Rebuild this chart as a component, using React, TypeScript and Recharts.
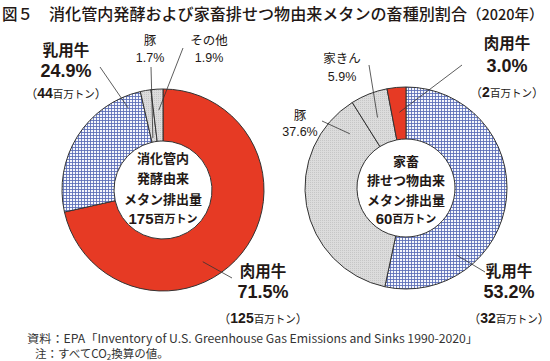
import React from 'react';
import { PieChart, Pie, Cell } from 'recharts';

const W = 550;
const H = 361;

// 消化管内発酵由来 (left ring)
const entericNames = ['肉用牛', '乳用牛', '豚', 'その他'];
const entericShares = [71.5, 24.9, 1.7, 1.9];
const entericTons = [125, 44, null, null];
const entericTotal = 175;

// 家畜排せつ物由来 (right ring)
const manureNames = ['乳用牛', '豚', '家きん', '肉用牛'];
const manureShares = [53.2, 37.6, 5.9, 3.0];
const manureTons = [32, null, null, 2];
const manureTotal = 60;

const JP = '"Noto Sans CJK JP", "Noto Sans", sans-serif';
const NUM = '"Liberation Sans", Arial, sans-serif';
const INK = '#231815';

const fills: Record<string, string> = {
  肉用牛: '#e63a24',
  乳用牛: 'url(#dairyHatch)',
  豚: 'url(#greyDots)',
  家きん: 'url(#greyDots)',
  その他: 'url(#greyDots)',
};

const LEFT = { cx: 163, cy: 190 };
const RIGHT = { cx: 406, cy: 188 };
const INNER = 49;
const OUTER = 101;

// label placement: tip = polar point inside the slice (deg clockwise from 12 o'clock)
type LabelPos = { tipR: number; tipA: number; from: [number, number]; x: number; ys: number[] };

const entericLabels: LabelPos[] = [
  { tipR: 82, tipA: 151, from: [232, 278], x: 263, ys: [270, 292, 318] },
  { tipR: 89, tipA: 337, from: [100, 67], x: 66, ys: [49, 71, 93] },
  { tipR: 53, tipA: 349, from: [151, 67], x: 150, ys: [39, 58] },
  { tipR: 80, tipA: 357, from: [183, 48], x: 209, ys: [39, 58] },
];

const manureLabels: LabelPos[] = [
  { tipR: 84, tipA: 143, from: [485, 272], x: 509, ys: [270, 292, 318] },
  { tipR: 78, tipA: 314, from: [322, 121], x: 300, ys: [114, 132] },
  { tipR: 76, tipA: 338, from: [369, 65], x: 342, ys: [57, 77] },
  { tipR: 76, tipA: 355, from: [462, 65], x: 507, ys: [42, 66, 92] },
];

const toData = (names: string[], shares: number[], tons: (number | null)[]) =>
  names.map((name, i) => ({ name, share: shares[i], tons: tons[i] }));

const makeLabel = (layout: LabelPos[]) => (props: any) => {
  const { cx, cy, index, payload, value } = props;
  const L = layout[index];
  const rad = (L.tipA * Math.PI) / 180;
  const tx = cx + L.tipR * Math.sin(rad);
  const ty = cy - L.tipR * Math.cos(rad);
  const big = payload.tons != null;
  const pct = `${Number(value).toFixed(1)}%`;
  return (
    <g key={`lbl-${index}`}>
      <line x1={L.from[0]} y1={L.from[1]} x2={tx} y2={ty} stroke="#333" strokeWidth={0.8} />
      {big ? (
        <>
          <text x={L.x} y={L.ys[0]} textAnchor="middle" dominantBaseline="central" fontFamily={JP} fontSize={15.5} fontWeight={700} fill={INK}>
            {payload.name}
          </text>
          <text x={L.x} y={L.ys[1]} textAnchor="middle" dominantBaseline="central" fontFamily={NUM} fontSize={18} fontWeight={700} fill={INK}>
            {pct}
          </text>
          <text x={L.x} y={L.ys[2]} textAnchor="middle" dominantBaseline="central" fontFamily={JP} fontSize={12} fill={INK}>
            （<tspan fontFamily={NUM} fontWeight={700} fontSize={14}>{payload.tons}</tspan>
            <tspan fontSize={10.5}>百万トン</tspan>）
          </text>
        </>
      ) : (
        <>
          <text x={L.x} y={L.ys[0]} textAnchor="middle" dominantBaseline="central" fontFamily={JP} fontSize={12.5} fill={INK}>
            {payload.name}
          </text>
          <text x={L.x} y={L.ys[1]} textAnchor="middle" dominantBaseline="central" fontFamily={NUM} fontSize={12.5} fill={INK}>
            {pct}
          </text>
        </>
      )}
    </g>
  );
};

const CenterText = ({ cx, lines, total, ys }: { cx: number; lines: string[]; total: number; ys: number[] }) => (
  <g fontFamily={JP} fontSize={13} fontWeight={700} fill={INK} textAnchor="middle">
    {lines.map((t, i) => (
      <text key={t} x={cx} y={ys[i]} dominantBaseline="central">
        {t}
      </text>
    ))}
    <text x={cx} y={ys[lines.length]} dominantBaseline="central">
      <tspan fontFamily={NUM} fontSize={15}>{total}</tspan>
      <tspan fontSize={11}>百万トン</tspan>
    </text>
  </g>
);

export default function App() {
  const enteric = toData(entericNames, entericShares, entericTons);
  const manure = toData(manureNames, manureShares, manureTons);

  return (
    <div style={{ position: 'absolute', left: 0, top: 0, width: W, height: H, background: '#fff' }}>
      <svg width={0} height={0} style={{ position: 'absolute' }}>
        <defs>
          <pattern id="dairyHatch" width={3} height={3} patternUnits="userSpaceOnUse">
            <rect width={3} height={3} fill="#f5f7fc" />
            <path d="M0 0.5H3M0.5 0V3" stroke="#5a6cb6" strokeWidth={0.85} />
          </pattern>
          <pattern id="greyDots" width={2} height={2} patternUnits="userSpaceOnUse">
            <rect width={2} height={2} fill="#dcdcdc" />
            <rect width={1} height={1} fill="#c6c6c6" />
          </pattern>
        </defs>
      </svg>

      <PieChart width={W} height={H} margin={{ top: 0, right: 0, bottom: 0, left: 0 }}>
        <Pie
          data={enteric}
          dataKey="share"
          nameKey="name"
          cx={LEFT.cx}
          cy={LEFT.cy}
          innerRadius={INNER}
          outerRadius={OUTER}
          startAngle={90}
          endAngle={-270}
          stroke="#333"
          strokeWidth={1}
          labelLine={false}
          label={makeLabel(entericLabels)}
          isAnimationActive={false}
        >
          {enteric.map((d) => (
            <Cell key={d.name} fill={fills[d.name]} />
          ))}
        </Pie>
        <Pie
          data={manure}
          dataKey="share"
          nameKey="name"
          cx={RIGHT.cx}
          cy={RIGHT.cy}
          innerRadius={INNER}
          outerRadius={OUTER}
          startAngle={90}
          endAngle={-270}
          stroke="#333"
          strokeWidth={1}
          labelLine={false}
          label={makeLabel(manureLabels)}
          isAnimationActive={false}
        >
          {manure.map((d) => (
            <Cell key={d.name} fill={fills[d.name]} />
          ))}
        </Pie>
      </PieChart>

      <svg width={W} height={H} style={{ position: 'absolute', left: 0, top: 0, pointerEvents: 'none' }}>
        <g fontFamily={JP} fill={INK} fontSize={15.5} fontWeight={500}>
          <text x={2} y={13} dominantBaseline="central">図５</text>
          <text x={49} y={13} dominantBaseline="central" textLength={418} lengthAdjust="spacingAndGlyphs">
            消化管内発酵および家畜排せつ物由来メタンの畜種別割合
          </text>
          <text x={467} y={13} dominantBaseline="central" fontSize={14.5}>
            （2020年）
          </text>
        </g>

        <CenterText cx={LEFT.cx} lines={['消化管内', '発酵由来', 'メタン排出量']} total={entericTotal} ys={[157, 177, 198, 218]} />
        <CenterText cx={RIGHT.cx} lines={['家畜', '排せつ物由来', 'メタン排出量']} total={manureTotal} ys={[160, 179, 199, 218]} />

        <g fontFamily={JP} fill="#333" fontSize={11.5}>
          <text x={27} y={338} dominantBaseline="central" textLength={451} lengthAdjust="spacingAndGlyphs">
            資料：EPA「Inventory of U.S. Greenhouse Gas Emissions and Sinks 1990-2020」
          </text>
          <text x={35} y={353} dominantBaseline="central">
            注：すべてCO<tspan fontSize={8} dy={3}>2</tspan>
            <tspan dy={-3}>換算の値。</tspan>
          </text>
        </g>
      </svg>
    </div>
  );
}
